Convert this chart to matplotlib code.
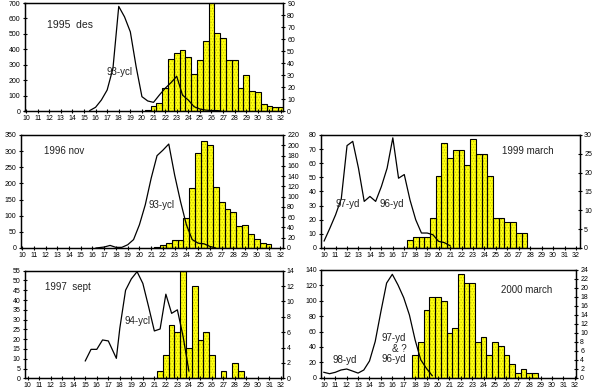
import matplotlib
matplotlib.use("Agg")
import matplotlib.pyplot as plt
import numpy as np

plt.rcParams['font.family'] = ['Liberation Sans', 'DejaVu Sans']
plt.rcParams['hatch.linewidth'] = 0.6

# ---------------- data ----------------
# Panel 1: 1995 des
p1_bar_x = [20.5, 21, 21.5, 22, 22.5, 23, 23.5, 24, 24.5, 25, 25.5, 26, 26.5, 27, 27.5, 28,
            28.5, 29, 29.5, 30, 30.5, 31, 31.5, 32]
p1_bar_y = [1, 4, 6.5, 19.5, 43, 48, 51, 45, 30.5, 42.5, 58, 92, 65, 61, 42.5, 42.5,
            19.5, 30, 16.5, 15.5, 5.5, 4, 3.3, 3.3]
p1_line_x = [15.5, 16, 16.5, 17, 17.5, 18, 18.5, 19, 19.5, 20, 20.5, 21, 21.5, 22, 22.5, 23,
             23.5, 24, 24.5, 25, 25.5, 26, 26.5, 26.8]
p1_line_y = [3, 24, 71, 136, 276, 678, 610, 513, 287, 93, 65, 56, 103, 147, 183, 225,
             103, 71, 28, 13, 6, 3, 3, 0]

# Panel 2: 1996 nov
p2_bar_x = [21.5, 22, 22.5, 23, 23.5, 24, 24.5, 25, 25.5, 26, 26.5, 27, 27.5, 28, 28.5, 29,
            29.5, 30, 30.5, 31]
p2_bar_y = [1, 5, 10, 15.5, 15.5, 58, 116.5, 184, 208, 200, 119, 89, 76, 70, 43, 45,
            28, 17.5, 10, 8.4]
p2_line_x = [16.3, 17, 17.5, 18, 18.5, 19, 19.5, 20, 20.5, 21, 21.5, 22, 22.5, 23, 23.5, 24,
             24.5, 25, 25.5, 26, 26.5]
p2_line_y = [0, 3, 8, 2, 2, 10, 26, 72, 134, 216, 286, 303, 322, 226, 144, 72,
             26, 15, 13, 5, 0]

# Panel 3: 1999 march
p3_bar_x = [17.5, 18, 18.5, 19, 19.5, 20, 20.5, 21, 21.5, 22, 22.5, 23, 23.5, 24, 24.5, 25,
            25.5, 26, 26.5, 27, 27.5]
p3_bar_y = [2, 3, 3, 3, 8, 19, 28, 24, 26, 26, 22, 29, 25, 25, 19, 8,
            8, 7, 7, 4, 4]
p3_line_x = [10, 10.5, 11, 11.5, 12, 12.5, 13, 13.5, 14, 14.5, 15, 15.5, 16, 16.5, 17, 17.5,
             18, 18.5, 19, 19.5, 20, 20.5, 21]
p3_line_y = [5, 14, 23.5, 35, 72.5, 75.5, 56.5, 33, 36.5, 33, 43.5, 56.5, 78, 49.4, 52, 34,
             20, 10.6, 10.6, 9.4, 4.7, 3.8, 1.6]

# Panel 4: 1997 sept
p4_bar_x = [21.5, 22, 22.5, 23, 23.5, 24, 24.5, 25, 25.5, 26, 27, 28, 28.5]
p4_bar_y = [1, 3, 7, 6, 14, 4, 12, 5, 6, 3, 1, 2, 1]
p4_line_x = [15, 15.5, 16, 16.5, 17, 17.7, 18, 18.5, 19, 19.5, 20, 20.5, 21, 21.5, 22, 22.5,
             23, 23.5, 24]
p4_line_y = [8.9, 14.8, 14.8, 19.6, 19.1, 10.2, 25.6, 45, 50.8, 54.5, 48.5, 36.6, 24.2, 25.2, 43, 33.2,
             35, 21.3, 3.7]

# Panel 5: 2000 march
p5_bar_x = [18, 18.5, 19, 19.5, 20, 20.5, 21, 21.5, 22, 22.5, 23, 23.5, 24, 24.5, 25, 25.5,
            26, 26.5, 27, 27.5, 28, 28.5]
p5_bar_y = [5, 8, 15, 18, 18, 17, 10, 11, 23, 21, 21, 8, 9, 5, 8, 7,
            5, 3, 1, 2, 1, 1]
p5_line_x = [10, 10.5, 11, 11.5, 12, 12.5, 13, 13.5, 14, 14.5, 15, 15.5, 16, 16.5, 17, 17.5,
             18, 18.5, 19, 19.5]
p5_line_y = [7, 5.2, 7, 10, 11.3, 8.7, 6, 10, 21.7, 47, 86, 123, 134.4, 120.5, 104, 81.5,
             49, 23, 12, 2.6]

x_ticks = list(range(10, 33))

# ---------------- figure ----------------
W, H = 596, 388
fig = plt.figure(figsize=(W / 100, H / 100), dpi=100)


def box(l, t, r, b):
    return [l / W, 1 - b / H, (r - l) / W, (b - t) / H]


panels = [
    dict(rect=box(24.5, 3, 283, 111), xlim=(9.87, 32.17),
         bx=p1_bar_x, by=p1_bar_y, lx=p1_line_x, ly=p1_line_y,
         lmax=700, lstep=100, rmax=90, rstep=10,
         texts=[("1995  des", 13.8, 560, 7.5), ("93-ycl", 18.1, 250, 7)]),
    dict(rect=box(20.5, 135, 283, 248), xlim=(9.87, 32.23),
         bx=p2_bar_x, by=p2_bar_y, lx=p2_line_x, ly=p2_line_y,
         lmax=350, lstep=50, rmax=220, rstep=20,
         texts=[("1996 nov", 13.6, 300, 7), ("93-ycl", 21.9, 134, 7)]),
    dict(rect=box(320.7, 135, 580, 248), xlim=(9.7, 32.35),
         bx=p3_bar_x, by=p3_bar_y, lx=p3_line_x, ly=p3_line_y,
         lmax=80, lstep=10, rmax=30, rstep=5,
         texts=[("1999 march", 27.8, 69, 7), ("97-yd", 12.1, 31, 7), ("96-yd", 15.9, 31, 7)]),
    dict(rect=box(24.5, 270.7, 282.7, 378.3), xlim=(9.72, 32.15),
         bx=p4_bar_x, by=p4_bar_y, lx=p4_line_x, ly=p4_line_y,
         lmax=55, lstep=5, rmax=14, rstep=2,
         texts=[("1997  sept", 13.5, 46.5, 7), ("94-ycl", 19.5, 29.5, 7)]),
    dict(rect=box(321, 270, 576, 377.7), xlim=(9.75, 32.1),
         bx=p5_bar_x, by=p5_bar_y, lx=p5_line_x, ly=p5_line_y,
         lmax=140, lstep=20, rmax=24, rstep=2,
         texts=[("2000 march", 27.8, 114, 7), ("98-yd", 11.8, 23, 7),
                ("97-yd", 16.1, 52, 7), ("& ?", 16.6, 37, 7), ("96-yd", 16.1, 24, 7)]),
]

for p in panels:
    ax = fig.add_axes(p['rect'])
    ax2 = ax.twinx()
    # bars on right axis
    ax2.bar(p['bx'], p['by'], width=0.5, color='#ffff10', edgecolor='none', linewidth=0, zorder=1)
    ax2.bar(p['bx'], p['by'], width=0.5, color='none', edgecolor='#c9c900', hatch='......',
            linewidth=0, zorder=2)
    ax2.bar(p['bx'], p['by'], width=0.5, color='none', edgecolor='black', linewidth=0.8, zorder=3)
    ax2.set_ylim(0, p['rmax'])
    ax2.set_yticks(np.arange(0, p['rmax'] + 0.1, p['rstep']))
    # line on left axis, drawn above bars
    ax.set_zorder(ax2.get_zorder() + 1)
    ax.patch.set_visible(False)
    ax.plot(p['lx'], p['ly'], color='black', linewidth=0.9, clip_on=False)
    ax.set_ylim(0, p['lmax'])
    ax.set_yticks(np.arange(0, p['lmax'] + 0.1, p['lstep']))
    ax.set_xlim(*p['xlim'])
    ax.set_xticks(x_ticks)
    for a in (ax, ax2):
        a.tick_params(direction='inout', length=3, width=0.8, labelsize=5, pad=1.5,
                      colors='black')
        for s in a.spines.values():
            s.set_linewidth(0.9)
    for (t, x, y, fs) in p['texts']:
        ax.text(x, y, t, fontsize=fs, ha='center', va='center', color='#222222')

fig.savefig("out.png", dpi=100)
